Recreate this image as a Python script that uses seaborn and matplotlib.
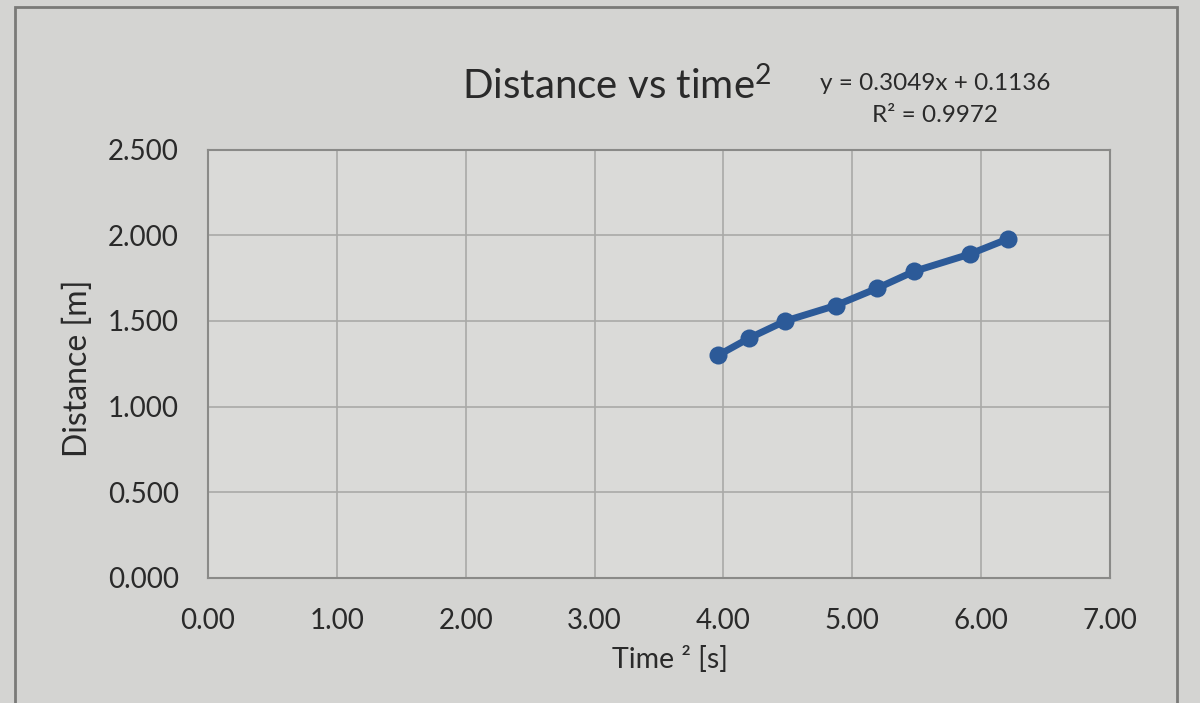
import matplotlib
matplotlib.use("Agg")
import matplotlib.pyplot as plt
import seaborn as sns
import pandas as pd
from matplotlib.patches import Rectangle

# Data
time_sq = [3.96, 4.20, 4.48, 4.87, 5.19, 5.48, 5.91, 6.21]
distance = [1.30, 1.40, 1.50, 1.59, 1.69, 1.79, 1.89, 1.98]
x_ticks = [0, 1, 2, 3, 4, 5, 6, 7]
y_ticks = [0.0, 0.5, 1.0, 1.5, 2.0, 2.5]
title_text = "Distance vs time$^{2}$"
eq_text = "y = 0.3049x + 0.1136"
r2_text = "R² = 0.9972"
x_label = "Time ² [s]"
y_label = "Distance [m]"

sns.set_theme(style="white")
plt.rcParams['font.family'] = ['Lato', 'DejaVu Sans']
plt.rcParams['mathtext.fontset'] = 'custom'
plt.rcParams['mathtext.rm'] = 'Lato'
plt.rcParams['mathtext.it'] = 'Lato'

bg = "#d4d4d2"
plot_bg = "#dadad8"
grid_c = "#a9a9a7"
text_c = "#2a2a2a"
line_c = "#2c5a98"

fig = plt.figure(figsize=(12, 7.03), dpi=100)
fig.patch.set_facecolor(bg)
ax = fig.add_axes([0.1733, 0.178, 0.7517, 0.609])
ax.set_facecolor(plot_bg)

df = pd.DataFrame({"t2": time_sq, "d": distance})
sns.lineplot(data=df, x="t2", y="d", ax=ax, color=line_c, linewidth=5,
             marker="o", markersize=13, markeredgewidth=0, sort=False)

ax.set_xlim(0, 7)
ax.set_ylim(0, 2.5)
ax.set_xticks(x_ticks)
ax.set_yticks(y_ticks)
ax.set_xticklabels([f"{v:.2f}" for v in x_ticks], fontsize=20, color=text_c)
ax.set_yticklabels([f"{v:.3f}" for v in y_ticks], fontsize=20, color=text_c)
ax.tick_params(axis="y", length=0, pad=21)
ax.tick_params(axis="x", length=0, pad=22)
ax.grid(True, color=grid_c, linewidth=1.2)
for s in ax.spines.values():
    s.set_visible(True)
    s.set_color("#8a8a88")
    s.set_linewidth(1.5)

ax.set_xlabel(x_label, fontsize=20.5, color=text_c)
ax.set_ylabel(y_label, fontsize=23, color=text_c)
ax.xaxis.set_label_coords(0.512, -0.158)
ax.yaxis.set_label_coords(-0.127, 0.49)

fig.text(0.514, 1 - 99 / 703, title_text, fontsize=29, color=text_c,
         ha="center", va="baseline")
fig.text(0.779, 1 - 84 / 703, eq_text, fontsize=17.5, color=text_c, ha="center", va="center")
fig.text(0.779, 1 - 116 / 703, r2_text, fontsize=17.5, color=text_c, ha="center", va="center")

fig.patches.append(Rectangle((0.0125, -0.05), 0.968, 1.04, transform=fig.transFigure,
                             fill=False, edgecolor="#7a7a78", linewidth=2))

fig.savefig("out.png", dpi=100, facecolor=bg)
